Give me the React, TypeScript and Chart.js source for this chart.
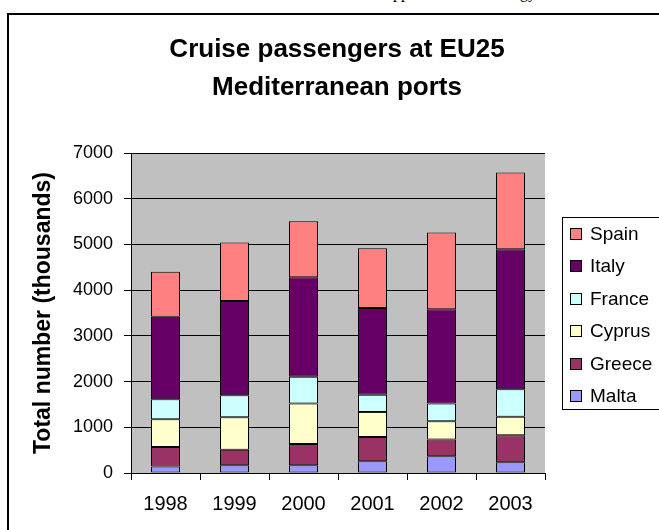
import React, { useEffect, useRef } from 'react';
import { Chart, registerables } from 'chart.js';

Chart.register(...registerables);

const years = ['1998', '1999', '2000', '2001', '2002', '2003'];
const malta = [140, 168, 170, 256, 365, 234];
const greece = [430, 343, 465, 533, 366, 592];
const cyprus = [606, 709, 884, 548, 402, 402];
const france = [438, 482, 585, 372, 387, 606];
const italy = [1805, 2060, 2177, 1900, 2060, 3062];
const spain = [986, 1278, 1227, 1307, 1681, 1680];

const seriesNames = ['Malta', 'Greece', 'Cyprus', 'France', 'Italy', 'Spain'];
const seriesValues = [malta, greece, cyprus, france, italy, spain];
const seriesColors = ['#9999FF', '#993366', '#FFFFCC', '#CCFFFF', '#660066', '#FF8080'];

const titleLines = ['Cruise passengers at EU25', 'Mediterranean ports'];
const yAxisTitle = 'Total number (thousands)';
const yMin = 0;
const yMax = 7000;
const yStep = 1000;

const FONT = 'Arial, "Liberation Sans", sans-serif';

const plotBg = {
  id: 'plotBg',
  beforeDraw(chart: any) {
    const { ctx, chartArea } = chart;
    ctx.save();
    ctx.fillStyle = '#C0C0C0';
    ctx.fillRect(chartArea.left, chartArea.top, chartArea.right - chartArea.left, chartArea.bottom - chartArea.top);
    ctx.restore();
  },
};

const boxLegend = {
  id: 'boxLegend',
  afterDraw(chart: any) {
    const { ctx, chartArea } = chart;
    const left = Math.round(chartArea.right + 17);
    const cy = (chartArea.top + chartArea.bottom) / 2;
    const h = 192;
    const top = Math.round(cy - h / 2);
    ctx.save();
    ctx.strokeStyle = '#000';
    ctx.lineWidth = 1;
    ctx.strokeRect(left + 0.5, top + 0.5, 200, h);
    const ds = chart.data.datasets.slice().reverse();
    ctx.font = '19px ' + FONT;
    ctx.textBaseline = 'middle';
    ctx.textAlign = 'left';
    ds.forEach((d: any, i: number) => {
      const y = Math.round(top + 17 + i * 32.4);
      ctx.fillStyle = d.backgroundColor;
      ctx.fillRect(left + 8, y - 6, 12, 12);
      ctx.strokeStyle = '#000';
      ctx.strokeRect(left + 8.5, y - 5.5, 11, 11);
      ctx.fillStyle = '#000';
      ctx.fillText(d.label, left + 28, y + 1);
    });
    ctx.restore();
  },
};

export default function App() {
  const ref = useRef<HTMLCanvasElement>(null);

  useEffect(() => {
    if (!ref.current) return;
    const chart = new Chart(ref.current, {
      type: 'bar',
      data: {
        labels: years,
        datasets: seriesNames.map((name, i) => ({
          label: name,
          data: seriesValues[i],
          backgroundColor: seriesColors[i],
          borderColor: '#000',
          borderWidth: 1,
          borderSkipped: false,
          inflateAmount: 0,
          barPercentage: 29 / 69,
          categoryPercentage: 1,
        })),
      },
      options: {
        responsive: false,
        animation: false,
        devicePixelRatio: 1,
        layout: { padding: { left: 6, right: 0, top: 0, bottom: 0 } },
        plugins: {
          legend: { display: false },
          tooltip: { enabled: false },
          title: {
            display: true,
            text: titleLines,
            color: '#000',
            font: { family: FONT, size: 26, weight: 'bold', lineHeight: 38 / 26 },
            padding: { top: 16, bottom: 46 },
          },
        },
        scales: {
          x: {
            stacked: true,
            grid: { drawOnChartArea: false, drawTicks: true, tickLength: 7, color: '#000', lineWidth: 1 },
            border: { color: '#000', width: 1 },
            ticks: { color: '#000', font: { family: FONT, size: 20 }, padding: 12, maxRotation: 0 },
            afterFit(s: any) { s.height = 57; },
          },
          y: {
            stacked: true,
            min: yMin,
            max: yMax,
            grid: { color: '#000', lineWidth: 1, tickLength: 7 },
            border: { color: '#000', width: 1 },
            ticks: {
              stepSize: yStep,
              color: '#000',
              font: { family: FONT, size: 18 },
              padding: 11,
              callback: (v: any) => String(v),
            },
            title: {
              display: true,
              text: yAxisTitle,
              color: '#000',
              font: { family: FONT, size: 23, weight: 'bold' },
              padding: { top: 15, bottom: 0 },
            },
            afterFit(s: any) { s.width = 116; },
          },
          yRight: {
            type: 'linear',
            position: 'right',
            display: true,
            grid: { display: false },
            border: { display: false },
            ticks: { display: false },
            afterFit(s: any) { s.width = 114; },
          },
        },
      },
      plugins: [plotBg, boxLegend],
    } as any);
    return () => chart.destroy();
  }, []);

  const topText: React.CSSProperties = {
    position: 'absolute',
    top: -15,
    font: '16px "Liberation Serif", serif',
    lineHeight: '16px',
    whiteSpace: 'nowrap',
    color: '#000',
  };

  return (
    <div style={{ position: 'absolute', left: 0, top: 0, width: 659, height: 530, overflow: 'hidden', background: '#fff' }}>
      <div style={{ ...topText, left: 393 }}>pp</div>
      <div style={{ ...topText, left: 520 }}>gy</div>
      <div style={{ position: 'absolute', left: 7, top: 13, width: 700, height: 600, border: '2px solid #000', boxSizing: 'border-box' }} />
      <div style={{ position: 'absolute', left: 9, top: 15, width: 650, height: 515 }}>
        <canvas ref={ref} width={650} height={515} style={{ display: 'block' }} />
      </div>
    </div>
  );
}
